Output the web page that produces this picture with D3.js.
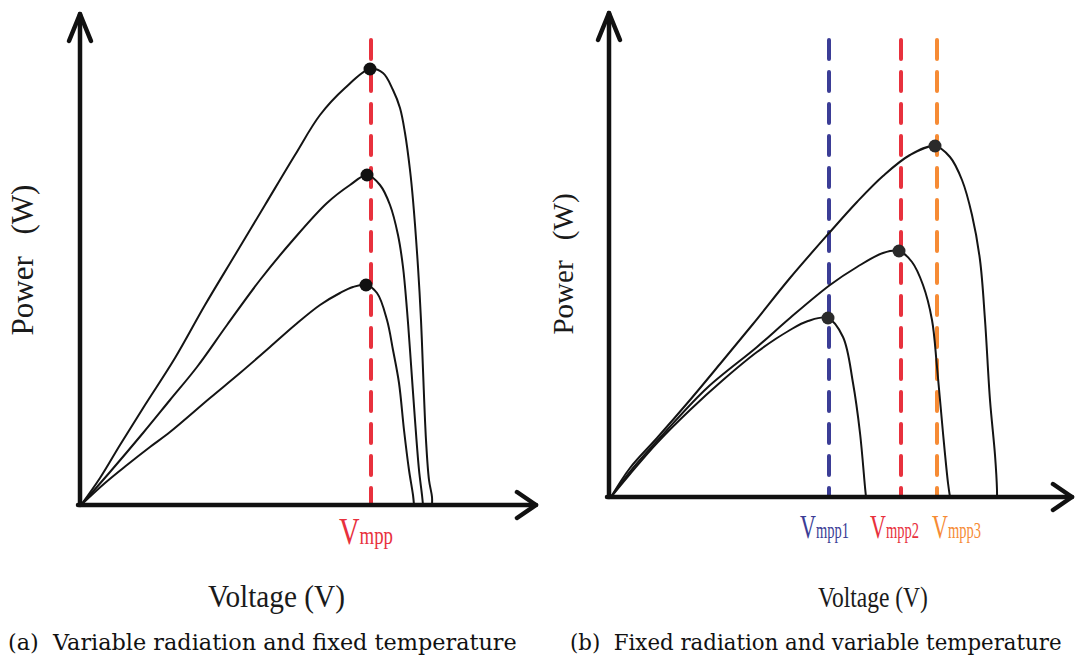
<!DOCTYPE html>
<html>
<head>
<meta charset="utf-8">
<script src="https://cdn.jsdelivr.net/npm/d3@7"></script>
<style>
  body { margin: 0; background: #fff; }
  svg { display: block; }
</style>
</head>
<body>
<div id="chart"></div>
<script>
// size of the page
var width = 1076,
    height = 658;

// (a) variable radiation, fixed temperature : voltage (V) / power (W)
var radHighV = [0.1, 2, 4, 6.5, 9.5, 12.5, 15.5, 18.5, 21.5, 24, 26.5, 29, 30.3, 31.3, 32, 32.5, 33, 33.3, 33.8, 34.1, 34.3, 34.6, 34.9, 35.2, 35.2];
var radHighP = [0, 2.7, 6, 10, 14.7, 20, 25, 30, 35, 39, 41.7, 43.6, 43.2, 41.5, 39.7, 37.2, 33.5, 30.5, 23.8, 18.5, 13.5, 6.5, 2.5, 0.8, 0];
var radMidV = [0.1, 3, 6.3, 9, 11.7, 14.7, 18, 21.3, 24.7, 27, 28.7, 30, 31, 31.8, 32.3, 32.7, 33, 33.5, 33.9, 34.2, 34.3];
var radMidP = [0, 3.3, 7.2, 10.5, 13.8, 18, 22.5, 26.5, 30.2, 32, 33, 32, 30, 27, 23.8, 19.5, 15.5, 8.5, 3.5, 1, 0];
var radLowV = [0.1, 2.5, 4.7, 7, 9, 13, 16, 19, 21.5, 24, 26, 27.3, 28.6, 29.7, 30.7, 31.3, 31.9, 32.4, 32.9, 33.3, 33.4];
var radLowP = [0, 2.2, 4, 5.8, 7.3, 10.7, 13.2, 15.8, 18, 20, 21.2, 21.8, 22, 21.2, 18.5, 15.5, 12.2, 7.5, 3.5, 1, 0];
var radMppV = [29, 28.7, 28.6];
var radMppP = [43.6, 33, 22];
var radVmpp = [29.1];

// (b) fixed radiation, variable temperature
var tempLowV = [0.2, 2.1, 4.8, 8.1, 11.1, 14.4, 18.1, 22.1, 24.8, 27.4, 30.1, 32.6, 34.1, 35.3, 36.3, 37.1, 37.6, 38.1, 38.6, 38.8, 38.8];
var tempLowP = [0, 2.9, 5.9, 9.7, 13.3, 17.3, 21.9, 26.5, 29.5, 32.1, 34.2, 35.1, 34, 31.7, 28.2, 23.7, 17.7, 9.7, 4.2, 0.7, 0];
var tempMidV = [0.2, 2.4, 5.8, 9.8, 14.8, 18.1, 22.1, 24.8, 27.4, 29, 30.3, 31.4, 32.3, 32.8, 33.4, 33.9, 34.1];
var tempMidP = [0, 2.9, 6.7, 10.9, 15, 17.9, 21.2, 23, 24.4, 24.6, 23.5, 21.2, 17.7, 13, 6.4, 1.4, 0];
var tempHighV = [0.2, 2.1, 4.8, 8.1, 11.4, 14.8, 18.1, 19.9, 21.9, 23.4, 24.4, 25.1, 25.6, 25.7];
var tempHighP = [0, 2.3, 5.4, 8.7, 11.7, 14.5, 16.7, 17.6, 17.9, 16, 11.4, 6.4, 1, 0];
var tempMppV = [32.6, 29, 21.9];
var tempMppP = [35.1, 24.6, 17.9];
var tempVmpp = [22, 29.2, 32.8];
var tempVmppNames = ["mpp1", "mpp2", "mpp3"];

var lineColors = ["#3b3d96", "#e8313d", "#f68b35"];

function zip(v, p) {
    return v.map(function(d, i) { return [d, p[i]]; });
}

// squeeze a text horizontally to a given width, keeping its left edge at x,y
function fitText(t, x, y, w) {
    var len = t.node().getComputedTextLength();
    t.attr("transform", "translate(" + x + "," + y + ") scale(" + (w / len) + ",1)");
}

var svg = d3.select("#chart")
    .append("svg")
    .attr("width", width)
    .attr("height", height);

// draws one panel
function drawPanel(cfg) {
    var x = d3.scaleLinear().domain([0, cfg.xMax]).range([cfg.left, cfg.left + cfg.xMax * 10]);
    var y = d3.scaleLinear().domain([0, cfg.yMax]).range([cfg.bottom, cfg.bottom - cfg.yMax * 10]);

    var g = svg.append("g");

    // dashed Vmpp lines
    g.selectAll(".vmpp")
        .data(cfg.vmpp)
        .enter()
        .append("line")
        .attr("x1", function(d) { return x(d); })
        .attr("x2", function(d) { return x(d); })
        .attr("y1", y(cfg.dashTop))
        .attr("y2", y(0))
        .attr("stroke", function(d, i) { return cfg.colors[i]; })
        .attr("stroke-width", 4)
        .attr("stroke-linecap", "round")
        .attr("stroke-dasharray", "19,13");

    // curves
    var line = d3.line()
        .x(function(d) { return x(d[0]); })
        .y(function(d) { return y(d[1]); })
        .curve(d3.curveCatmullRom.alpha(0.5));

    g.selectAll(".curve")
        .data(cfg.curves)
        .enter()
        .append("path")
        .attr("d", line)
        .attr("fill", "none")
        .attr("stroke", "#141414")
        .attr("stroke-width", 2)
        .attr("stroke-linejoin", "round");

    // max power points
    g.selectAll(".mpp")
        .data(zip(cfg.mppV, cfg.mppP))
        .enter()
        .append("circle")
        .attr("cx", function(d) { return x(d[0]); })
        .attr("cy", function(d) { return y(d[1]); })
        .attr("r", 6.5)
        .attr("fill", cfg.dotColor);

    // axes with open arrow heads
    var ax = g.append("g")
        .attr("stroke", "#111")
        .attr("stroke-width", 4.5)
        .attr("stroke-linecap", "round")
        .attr("stroke-linejoin", "round")
        .attr("fill", "none");
    var x0 = x(0), y0 = y(0), xt = x(cfg.xMax) - 2, yt = y(cfg.yMax) + 4;
    ax.append("path").attr("d", "M" + x0 + "," + y0 + "V" + yt);
    ax.append("path").attr("d", "M" + (x0 - 2) + "," + y0 + "H" + xt);
    ax.append("path").attr("d", "M" + (x0 - 11) + "," + (yt + 27) + "L" + x0 + "," + yt + "L" + (x0 + 11) + "," + (yt + 27));
    ax.append("path").attr("d", "M" + (xt - 19) + "," + (y0 - 13) + "L" + xt + "," + y0 + "L" + (xt - 19) + "," + (y0 + 13));

    // Vmpp labels
    cfg.vmpp.forEach(function(v, i) {
        var t = g.append("text")
            .attr("fill", cfg.colors[i])
            .attr("font-family", "'Liberation Serif', serif");
        t.append("tspan").attr("font-size", cfg.vSize).text("V");
        t.append("tspan").attr("font-size", cfg.vSize * 0.66).text(cfg.names[i]);
        fitText(t, x(v) + cfg.labelDx[i], cfg.labelY, cfg.labelW);
    });

    // axis titles
    g.append("text")
        .attr("transform", "translate(" + cfg.yTitleX + "," + cfg.yTitleY + ") rotate(-90)")
        .attr("text-anchor", "middle")
        .attr("font-family", "'Liberation Serif', serif")
        .attr("font-size", cfg.yTitleSize)
        .attr("fill", "#1a1a1a")
        .text("Power\u2002\u2009(W)");

    var vt = g.append("text")
        .attr("font-family", "'Liberation Serif', serif")
        .attr("font-size", cfg.xTitleSize)
        .attr("fill", "#1a1a1a")
        .text("Voltage (V)");
    fitText(vt, cfg.xTitleX, 607, cfg.xTitleW);

    var ct = g.append("text")
        .attr("font-family", "'DejaVu Serif', serif")
        .attr("font-size", 22)
        .attr("fill", "#111")
        .attr("xml:space", "preserve")
        .text(cfg.caption);
    fitText(ct, cfg.capX, 650, cfg.capW);
}

drawPanel({
    left: 80, bottom: 505, xMax: 45.8, yMax: 49.5, dashTop: 46.5,
    curves: [zip(radHighV, radHighP), zip(radMidV, radMidP), zip(radLowV, radLowP)],
    mppV: radMppV, mppP: radMppP, dotColor: "#111",
    vmpp: radVmpp, colors: [lineColors[1]], names: ["mpp"],
    labelDx: [-32], labelY: 544, labelW: 54, vSize: 38,
    yTitleX: 33, yTitleY: 260, yTitleSize: 31,
    xTitleX: 208, xTitleSize: 32, xTitleW: 137,
    capX: 8, capW: 509, caption: "(a)  Variable radiation and fixed temperature"
});

drawPanel({
    left: 609, bottom: 497, xMax: 46.5, yMax: 48.8, dashTop: 45.7,
    curves: [zip(tempLowV, tempLowP), zip(tempMidV, tempMidP), zip(tempHighV, tempHighP)],
    mppV: tempMppV, mppP: tempMppP, dotColor: "#2a2a2a",
    vmpp: tempVmpp, colors: lineColors, names: tempVmppNames,
    labelDx: [-29, -31, -5], labelY: 538, labelW: 49, vSize: 34,
    yTitleX: 573, yTitleY: 264, yTitleSize: 29,
    xTitleX: 818, xTitleSize: 30, xTitleW: 110,
    capX: 570, capW: 492, caption: "(b)  Fixed radiation and variable temperature"
});
</script>
</body>
</html>
